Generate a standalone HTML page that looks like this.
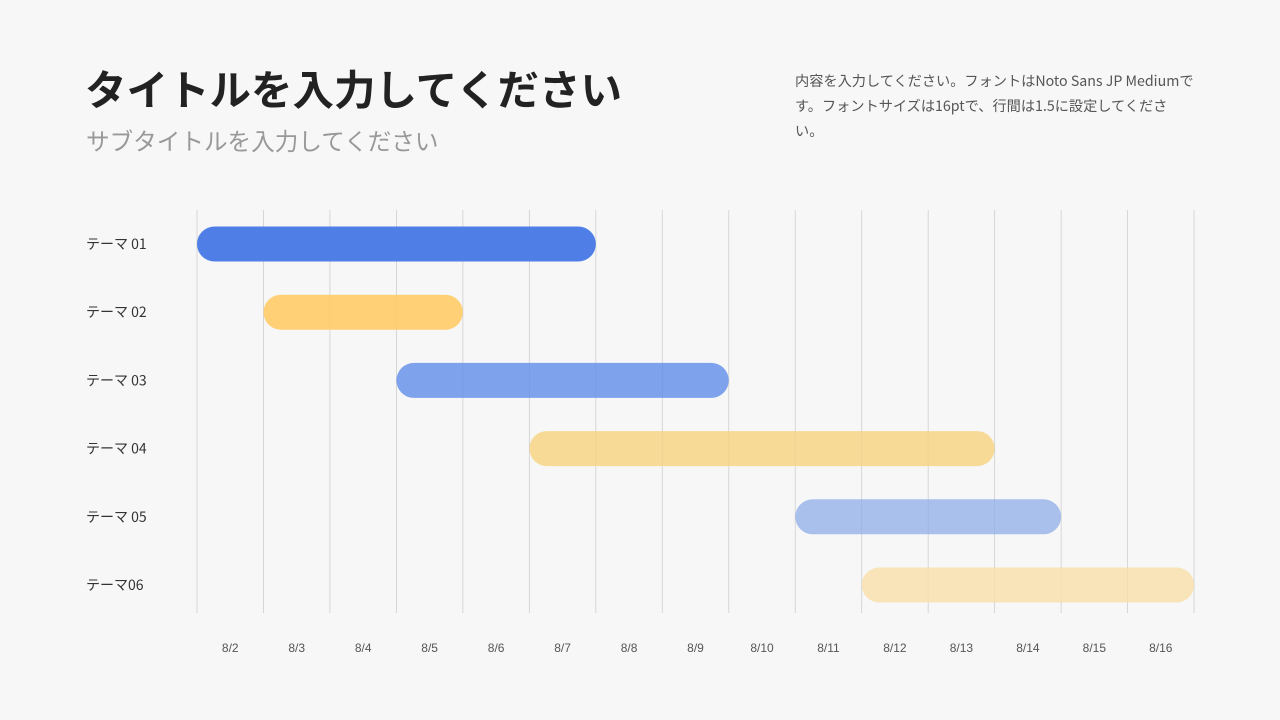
<!DOCTYPE html>
<html><head><meta charset="utf-8"><style>
body{margin:0;width:1280px;height:720px;background:#f7f7f7;overflow:hidden;font-family:"Liberation Sans","Noto Sans CJK JP",sans-serif;position:relative}
#title{position:absolute;left:85px;top:61px;font-size:41.5px;font-weight:bold;color:#222;margin:0;font-family:"Noto Sans CJK JP",sans-serif;line-height:1.3}
#sub{position:absolute;left:86px;top:123px;font-size:23.6px;color:#999;font-family:"Noto Sans CJK JP",sans-serif}
#desc{position:absolute;left:795px;top:69px;width:402px;font-size:14.2px;line-height:25px;color:#555;font-family:"Noto Sans CJK JP",sans-serif}
svg{position:absolute;left:0;top:0}
</style></head><body>
<h1 id="title">タイトルを入力してください</h1>
<div id="sub">サブタイトルを入力してください</div>
<div id="desc">内容を入力してください。フォントはNoto Sans JP Mediumです。フォントサイズは16ptで、行間は1.5に設定してくださ<br>い。</div>
<svg id="chart" width="1280" height="720"></svg>
<script>
const dates=["8/2","8/3","8/4","8/5","8/6","8/7","8/8","8/9","8/10","8/11","8/12","8/13","8/14","8/15","8/16"];
const tasks=["テーマ 01","テーマ 02","テーマ 03","テーマ 04","テーマ 05","テーマ06"];
const startIdx=[0,1,3,5,9,10];
const endIdx=[5,3,7,11,12,14];
const colors=["#4a7be6","#ffcb66","#5f8ce8","#f8d27c","#8aaae9","#f8dfa8"];
const opac=[0.98,0.9,0.8,0.78,0.72,0.8];
const NS="http://www.w3.org/2000/svg";
const svg=document.getElementById('chart');
const x0=197,colW=66.47,y0=244,rowH=68.2,barH=35;
const xs=i=>x0+i*colW;
const ys=i=>y0+i*rowH;
function mk(t,a){const e=document.createElementNS(NS,t);for(const k in a)e.setAttribute(k,a[k]);svg.appendChild(e);return e;}
for(let i=0;i<=dates.length;i++){
 const l=mk('line',{x1:xs(i),x2:xs(i),y1:210,y2:613,stroke:'#cfcfcf','stroke-width':0.8});
 
 
}
dates.forEach((d,i)=>{
 const t=mk('text',{x:xs(i)+colW/2,y:652,'text-anchor':'middle','font-size':12,fill:'#555'});
 t.textContent=d;
 
 
});
tasks.forEach((n,i)=>{
 const t=mk('text',{x:86,y:ys(i)+5,'font-size':14,fill:'#333','font-family':'"Noto Sans CJK JP",sans-serif'});
 t.textContent=n;
 
 
 const x1=xs(startIdx[i]),x2=xs(endIdx[i]+1);
 const r=mk('rect',{x:x1,y:ys(i)-barH/2,width:x2-x1,height:barH,rx:barH/2,fill:colors[i],'fill-opacity':opac[i]});
 
 
});
</script>
</body></html>
